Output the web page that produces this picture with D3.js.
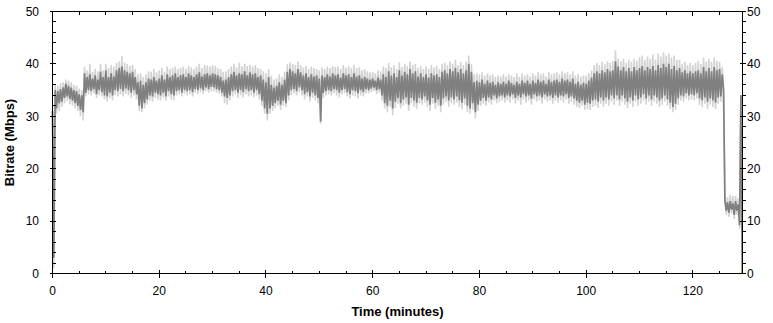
<!DOCTYPE html>
<html>
<head>
<meta charset="utf-8">
<script src="https://cdn.jsdelivr.net/npm/d3@7"></script>
<style>
  body { margin: 0; background: #fff; }
  svg { display: block; }
  text { font-family: "Liberation Sans", Arial, sans-serif; }
</style>
</head>
<body>
<div id="chart"></div>
<script>
// bitrate per half-minute bin (Mbps)
var binStep = 0.5;

var darkHi = [
  31,35,34.8,35.2,35.5,36.2,35.8,35.5,35,34.8,
  34.2,34,38.2,37.5,38,37.2,37.8,37,38.5,37.5,
  38.8,37.5,38.2,37.6,38.8,39.2,39.5,38.8,38.5,38.2,
  38.5,37.5,36.5,36.8,36,36.5,37.2,37,37.5,36.8,
  37.2,37.8,37,38,37.5,37.8,38.2,37.5,37.8,38,
  37.5,38.2,37.8,37.5,38,38.4,37.6,38,38.2,37.8,
  38.2,38,37.8,37.5,36.8,37,37.5,38,38.5,37.8,
  38.2,38,38.6,37.8,38.4,38,38.2,37.5,37.8,37,
  36.5,37.5,36,35.5,35.8,36.5,36,37,38.5,39,
  38.6,38.2,39,38.4,37.8,38.2,37.5,38,37.6,37.8,
  37.2,37.8,37.5,38,37.6,38.2,37.8,38,37.4,38.2,
  37.8,38,37.5,38.2,37.6,37.8,37.2,37.5,37.2,37,
  37.2,36.8,37.4,37,38,37.5,38.6,37.8,38.2,37.5,
  38.8,37.8,38.5,38,39,38.2,38.6,37.6,38.2,37.5,
  38,37.4,38.2,37.8,38,37.5,38.5,38.8,38.2,39,
  38.6,39.2,38.4,39,38.2,38.8,40,38.5,36.5,36.8,
  36.5,37,36.2,36.8,36.4,36.6,36,36.5,36.2,36.6,
  36.2,36.8,36.4,36,36.6,36.2,36.8,36.4,36.8,36.2,
  36.8,36.4,37,36.6,36.8,36.2,37,36.6,36.8,37,
  36.6,37.2,36.8,37,36.6,37.2,36.2,36.6,36,36.4,
  36.2,36.8,37.4,38.2,38.6,38.2,38.8,38.4,39,38.6,
  38.8,40.5,39.5,38.8,39.4,38.6,39.2,38.6,39.4,38.8,
  39.2,39.6,38.8,39.4,39,39.6,38.8,39.8,39.2,40,
  39.4,40,39,39.6,38.8,39.2,38.4,38.8,38.2,38.6,
  38.2,38.6,38.8,38.2,39.4,38.6,39.2,38.6,39.4,38.8,
  39,38,14,13.6,13.8,13.4,13.8,13.2,34
];
var darkLo = [
  3,31.5,32.5,32.8,33.5,33.8,33.3,33,32.5,32,
  31.2,30.8,34.5,35,34.8,35.2,34.2,35,34.6,34,
  33.8,34.5,34,35,34.8,35.2,34.8,35.3,35,34.5,
  35,34.2,32,31.5,32.5,33.2,34,33.8,34.5,34.2,
  34,34.5,33.8,34.8,34.2,34,34.8,35,34.5,35,
  34.8,35,34.6,35.2,35,35.3,35,35.5,35.2,35.6,
  35.5,35.2,35,34.5,33.8,33.5,34,34.8,35,34.5,
  35,34.6,35.2,34.8,35,34.5,35,34.2,33,31.5,
  30.5,31.5,32,32.5,33,32.2,33,32.5,34,35,
  35.2,34.8,35.5,35,34.2,34.6,33.8,34.5,34,33.5,
  29,34.5,34.8,35,34.8,35.2,35,34.5,35,35.2,
  34.6,34.2,35,34.8,34.4,35,34.6,35.2,35,35.3,
  35.5,35,35.2,34,32.5,32,33,31.5,32.8,33.5,
  32.5,33.2,33.6,32.2,33.5,33,32.6,33.5,33.2,33.8,
  33,32.2,33.5,32.6,33.2,32,33.4,33.8,33,33.6,
  33.2,33.8,33,32.6,33.4,32,31.5,32.5,30.8,32.2,
  33,33.5,33,33.6,33.2,34,33.4,33.8,34,33.6,
  34,33.8,34.2,33.5,34,33.6,34.2,33.8,34,33.4,
  34.2,33.8,34,33.6,34.2,33.8,34,33.5,34,33.6,
  34,33.8,34.2,33.5,33.8,33.4,33,32.6,33,32.2,
  32.6,32.4,33,33.2,32.8,33.6,33,33.6,33.2,34,
  33.4,34,33.2,34,33.4,32.8,33.6,33,34,33.2,
  33.6,34.2,33.4,34,33.2,34,33.6,33,33.4,34,
  33.2,32.6,31.8,32.4,33.4,34,33.8,34.4,34,34.2,
  34,34.4,33.4,33,33.6,32.8,33.4,33,32.6,33.6,
  33.8,35.2,12,11.6,12.2,11.2,12,9.2,0
];
var lightHi = [
  31,36,35.8,36.3,36.5,37,36.8,36.5,36,35.8,
  35.3,35,39.5,38.8,40,38.5,39,38.6,40,38.8,
  40,39.2,39.8,39.5,40.2,40.5,41.5,40.3,40,39.6,
  39.8,39,38,38.2,37.5,38,38.6,38.5,39,38.4,
  38.8,39.2,38.5,39.5,39,39.3,39.5,39,39.2,39.5,
  39,39.6,39.3,39,39.5,40,39.2,39.8,39.7,39.5,
  39.8,39.6,39.2,39,38.5,38.6,39,39.5,40,39.3,
  40.2,39.5,40,39.6,39.8,39.5,39.8,39.2,39,38.6,
  38.2,39,37.8,37,37.2,38,37.5,38.5,40,40.3,
  40,39.8,40.5,39.8,39.3,39.6,39,39.5,39.2,39,
  38.8,39.3,39,39.5,39.2,39.6,39.4,39.5,39,39.8,
  39.3,39.6,39.2,39.8,39.2,39.4,38.8,39,38.6,38.4,
  38.5,38.2,38.8,38.6,39.5,39.2,40.2,39.4,39.8,39,
  40.3,39.4,40,39.6,40.5,39.8,40,39.2,39.6,39,
  39.5,39,39.8,39.3,39.6,39,40,40.2,39.8,40.5,
  40,40.8,39.8,40.4,39.8,40.4,41.6,40,38,38.2,
  38,38.4,37.8,38.2,37.8,38,37.5,37.8,37.6,38,
  37.6,38,37.8,37.5,38.2,37.6,38.2,37.8,38,37.6,
  38.2,37.8,38.4,38,38.2,37.6,38.4,38,38.2,38.4,
  38,38.6,38.2,38.4,38,38.6,37.8,38,37.6,37.8,
  37.8,38.2,38.8,39.8,40.2,39.8,40.4,40,40.5,40.2,
  40.5,42.6,41,40.5,41,40.2,40.8,40.4,41,40.6,
  41.2,41.6,40.8,41.4,41,41.8,40.8,42,41.4,42.2,
  41.6,42,41.2,41.6,40.8,40.8,40,40.4,39.8,40.2,
  39.8,40.2,40.6,40,41.2,40.4,41,40.4,41.2,40.6,
  40.4,39.4,15,14.6,15,14.8,14.8,14.4,34
];
var lightLo = [
  1,30.5,31,31.8,32.5,33,32.3,32,31.5,31,
  30,29.2,33.8,34.2,34,34.3,33.5,34,33.8,33.2,
  32.8,33.5,33,34,33.8,34.2,33.8,34.3,34,33.5,
  34,33.2,31,30.8,31.5,32.2,33,32.8,33.5,33.2,
  33,33.6,33,33.8,33.2,33,34,34.2,33.8,34.3,
  34,34.2,33.8,34.5,34.2,34.6,34.2,34.8,34.5,34.8,
  34.8,34.5,34.3,33.8,32.5,32.2,33,33.8,34.2,33.5,
  34,33.6,34.2,33.8,34,33.6,34,33.2,32,30.5,
  29.2,30.5,31,31.5,32,31.2,32,31.8,33,34,
  34.4,34,34.6,34,33.2,33.8,32.8,33.5,33,32.5,
  28.6,33.6,34,34.2,34,34.4,34,33.6,34.2,34.4,
  33.8,33.4,34,33.8,33.4,34,33.8,34.4,34.4,34.6,
  34.8,34.2,34.5,33,31.5,30.8,31.8,30.2,31.6,32.4,
  31.5,32,32.4,31,32.5,31.8,31.4,32.5,32.2,32.6,
  31.8,31,32.4,31.4,32,30.8,32.2,32.8,31.8,32.5,
  32.2,32.6,31.8,31.4,32.2,30.8,30.5,31.2,29.6,31,
  32,32.4,32,32.6,32.2,33,32.5,32.8,33,32.6,
  33,32.6,33.2,32.4,33,32.2,33.2,32.6,33,32.2,
  33.2,32.8,33,32.4,33.2,32.8,33,32.4,33,32.6,
  33,32.6,33.2,32.4,32.8,32.2,31.8,31.6,32,31.2,
  31.4,31.2,31.8,32,31.6,32.4,31.8,32.4,32,32.8,
  32.2,33,32,32.8,32.2,31.6,32.4,31.8,32.8,32,
  32.4,33,32.2,32.8,32,32.8,32.4,31.8,32.2,32.8,
  32,31.4,30.8,31.2,32.2,33,32.8,33.4,33,33.2,
  33,33.4,32.2,31.8,32.4,31.4,32.2,31.8,31.4,32.4,
  32.8,34.4,11.2,10.8,11.4,10.4,11.2,8.6,0
];

var xTicks = [0, 20, 40, 60, 80, 100, 120];
var xMinor = d3.range(0, 130, 5);
var yTicks = [0, 10, 20, 30, 40, 50];
var yMinor = d3.range(0, 51, 2);

var width = 773, height = 323;
var plotLeft = 52.5, plotRight = 742.5, plotTop = 11.5, plotBottom = 273.5;

var svg = d3.select("#chart").append("svg")
  .attr("width", width)
  .attr("height", height);

svg.append("rect").attr("width", width).attr("height", height).attr("fill", "#fff");

var x = d3.scaleLinear().domain([0, 129.3]).range([plotLeft, plotRight]);
var y = d3.scaleLinear().domain([0, 50]).range([plotBottom, plotTop]);

// zig-zag through each bin: high at the bin start, low a quarter minute later
function zigzag(hi, lo) {
  var pts = [];
  var n = Math.min(hi.length, lo.length);
  for (var i = 0; i < n; i++) {
    var t = i * binStep;
    pts.push([t, hi[i]]);
    pts.push([t + binStep / 2, lo[i]]);
  }
  return pts;
}

var line = d3.line()
  .x(function(d) { return x(d[0]); })
  .y(function(d) { return y(d[1]); });

svg.append("path")
  .datum(zigzag(lightHi, lightLo))
  .attr("d", line)
  .attr("fill", "none")
  .attr("stroke", "#d3d3d3")
  .attr("stroke-width", 1.6);

svg.append("path")
  .datum(zigzag(darkHi, darkLo))
  .attr("d", line)
  .attr("fill", "none")
  .attr("stroke", "#808080")
  .attr("stroke-width", 1.7);

// frame
var frame = svg.append("g").attr("stroke", "#000").attr("stroke-width", 1).attr("shape-rendering", "crispEdges");
frame.append("line").attr("x1", plotLeft).attr("x2", plotRight).attr("y1", plotTop).attr("y2", plotTop);
frame.append("line").attr("x1", plotLeft).attr("x2", plotRight).attr("y1", plotBottom).attr("y2", plotBottom);
frame.append("line").attr("x1", plotLeft).attr("x2", plotLeft).attr("y1", plotTop).attr("y2", plotBottom);
frame.append("line").attr("x1", plotRight).attr("x2", plotRight).attr("y1", plotTop).attr("y2", plotBottom);

function px(v) { return Math.round(x(v) - 0.5) + 0.5; }
function py(v) { return Math.round(y(v) - 0.5) + 0.5; }

// x ticks, bottom and top
xMinor.forEach(function(v) {
  var major = xTicks.indexOf(v) >= 0;
  frame.append("line").attr("x1", px(v)).attr("x2", px(v))
    .attr("y1", major ? plotBottom - 4 : plotBottom - 3).attr("y2", major ? plotBottom + 4 : plotBottom);
  frame.append("line").attr("x1", px(v)).attr("x2", px(v))
    .attr("y1", plotTop).attr("y2", major ? plotTop + 4 : plotTop + 3);
});

// y ticks, left and right
yMinor.concat(yTicks).forEach(function(v) {
  var major = yTicks.indexOf(v) >= 0;
  frame.append("line").attr("y1", py(v)).attr("y2", py(v))
    .attr("x1", major ? plotLeft - 3 : plotLeft).attr("x2", plotLeft + 3);
  frame.append("line").attr("y1", py(v)).attr("y2", py(v))
    .attr("x1", major ? plotRight - 3 : plotRight).attr("x2", plotRight + 3);
});

var labels = svg.append("g").attr("font-size", "12px").attr("fill", "#000");

labels.selectAll(".xl").data(xTicks).enter().append("text")
  .attr("x", function(d) { return x(d); })
  .attr("y", 295)
  .attr("text-anchor", "middle")
  .text(function(d) { return d; });

labels.selectAll(".yl").data(yTicks).enter().append("text")
  .attr("x", 39)
  .attr("y", function(d) { return y(d); })
  .attr("dy", "0.35em")
  .attr("text-anchor", "end")
  .text(function(d) { return d; });

labels.selectAll(".yr").data(yTicks).enter().append("text")
  .attr("x", 747)
  .attr("y", function(d) { return y(d); })
  .attr("dy", "0.35em")
  .attr("text-anchor", "start")
  .text(function(d) { return d; });

svg.append("text")
  .attr("x", (plotLeft + plotRight) / 2)
  .attr("y", 316)
  .attr("text-anchor", "middle")
  .attr("font-size", "13px")
  .attr("font-weight", "bold")
  .text("Time (minutes)");

svg.append("text")
  .attr("transform", "translate(14," + ((plotTop + plotBottom) / 2) + ") rotate(-90)")
  .attr("text-anchor", "middle")
  .attr("font-size", "13px")
  .attr("font-weight", "bold")
  .text("Bitrate (Mbps)");
</script>
</body>
</html>
